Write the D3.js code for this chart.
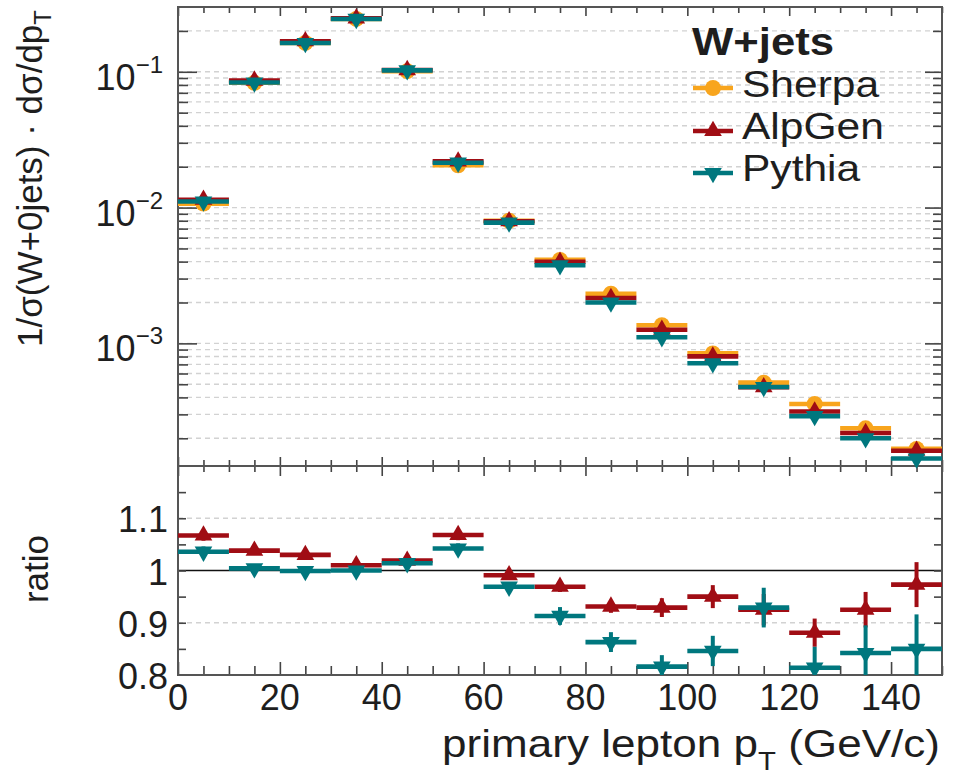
<!DOCTYPE html>
<html><head><meta charset="utf-8">
<script src="https://cdn.jsdelivr.net/npm/d3@7"></script>
<style>
body{margin:0;background:#fff}
svg{display:block}
text{font-family:"Liberation Sans",Arial,Helvetica,sans-serif;fill:#1e1e1e}
</style>
</head><body>
<svg id="c" width="954" height="779"></svg>
<script>
// ---------------- data ----------------
const binEdges = [0,10,20,30,40,50,60,70,80,90,100,110,120,130,140,150];
const seriesNames = ["Sherpa","AlpGen","Pythia"];
const sherpa = [0.0107,0.0830,0.163,0.245,0.101,0.0205,0.00800,0.00412,0.00232,0.00136,0.000844,0.000514,0.000358,0.000237,0.000167];
const alpgen = [0.01142,0.0862,0.168,0.2475,0.1030,0.0219,0.00793,0.00399,0.00216,0.00126,0.000802,0.000475,0.000315,0.000219,0.000162];
const pythia = [0.01109,0.0833,0.163,0.245,0.1025,0.0214,0.00775,0.00376,0.00200,0.00111,0.000714,0.000477,0.000291,0.000200,0.000142];
const ratioAlpgen    = [1.067,1.038,1.030,1.010,1.019,1.068,0.991,0.969,0.931,0.929,0.950,0.925,0.881,0.925,0.973];
const ratioAlpgenErr = [0.010,0.008,0.008,0.006,0.007,0.010,0.008,0.010,0.012,0.018,0.022,0.030,0.027,0.034,0.043];
const ratioPythia    = [1.036,1.004,0.999,1.000,1.014,1.042,0.969,0.913,0.863,0.816,0.846,0.929,0.814,0.842,0.850];
const ratioPythiaErr = [0.010,0.008,0.007,0.006,0.007,0.010,0.009,0.017,0.019,0.022,0.029,0.038,0.040,0.053,0.066];
const xTickLabels = [0,20,40,60,80,100,120,140];
const yTopDecades = [1e-3,1e-2,1e-1];
const yTopDecadeLabels = ["-3","-2","-1"];
const yRatioTicks = [0.8,0.9,1.0,1.1];
const yRatioLabels = ["0.8","0.9","1","1.1"];

// ---------------- layout ----------------
const colors = {Sherpa:"#f8a51d", AlpGen:"#a00d14", Pythia:"#00777e"};
const L = 178, R = 942, T1 = 7, B1 = 466, T2 = 466, B2 = 675;
const svg = d3.select("#c");

const x = d3.scaleLinear().domain([0,150]).range([L,R]);
const yTop = d3.scaleLog().domain([1.25e-4,0.3]).range([B1,T1]);
const yRat = d3.scaleLinear().domain([0.8,1.2]).range([B2,T2]);

const bins = d3.range(binEdges.length-1).map(i=>({lo:binEdges[i],hi:binEdges[i+1],c:(binEdges[i]+binEdges[i+1])/2,i}));

const logMinor = [];
[1e-4,1e-3,1e-2,1e-1].forEach(d=>{for(let k=1;k<10;k++){const v=d*k; if(v>=1.25e-4 && v<=0.3) logMinor.push(v);}});

// ---------------- grids ----------------
const grid = svg.append("g").attr("stroke","#d2d2d2").attr("stroke-width",1.4).attr("stroke-dasharray","5,4");
logMinor.forEach(v=>{
  grid.append("line").attr("x1",L).attr("x2",R).attr("y1",yTop(v)).attr("y2",yTop(v));
});
[0.9,1.1].forEach(v=>{
  grid.append("line").attr("x1",L).attr("x2",R).attr("y1",yRat(v)).attr("y2",yRat(v));
});
svg.append("line").attr("x1",L).attr("x2",R).attr("y1",yRat(1)).attr("y2",yRat(1)).attr("stroke","#111").attr("stroke-width",1.4);

// ---------------- ticks via d3 axes ----------------
const tickCol = "#444";
function styleAxis(g){g.select(".domain").remove(); g.selectAll("line").attr("stroke",tickCol).attr("stroke-width",1.6); g.selectAll("text").remove();}
const xMinor = d3.range(0,151,5).filter(v=>v%20!==0);
const xMajor = d3.range(0,151,20);
svg.append("g").attr("transform",`translate(0,${T1})`).call(d3.axisTop(x).tickValues(xMinor).tickSize(-6)).call(styleAxis);
svg.append("g").attr("transform",`translate(0,${T1})`).call(d3.axisTop(x).tickValues(xMajor).tickSize(-9)).call(styleAxis);
svg.append("g").attr("transform",`translate(0,${B1})`).call(d3.axisBottom(x).tickValues(xMinor).tickSize(-6)).call(styleAxis);
svg.append("g").attr("transform",`translate(0,${B1})`).call(d3.axisBottom(x).tickValues(xMajor).tickSize(-9)).call(styleAxis);
svg.append("g").attr("transform",`translate(0,${T2})`).call(d3.axisTop(x).tickValues(xMinor).tickSize(-6)).call(styleAxis);
svg.append("g").attr("transform",`translate(0,${T2})`).call(d3.axisTop(x).tickValues(xMajor).tickSize(-10)).call(styleAxis);
svg.append("g").attr("transform",`translate(0,${B2})`).call(d3.axisBottom(x).tickValues(xMinor).tickSize(-9)).call(styleAxis);
svg.append("g").attr("transform",`translate(0,${B2})`).call(d3.axisBottom(x).tickValues(xMajor).tickSize(-13)).call(styleAxis);
const logMinorOnly = logMinor.filter(v=>!yTopDecades.includes(v));
svg.append("g").attr("transform",`translate(${L},0)`).call(d3.axisLeft(yTop).tickValues(logMinorOnly).tickSize(-10)).call(styleAxis);
svg.append("g").attr("transform",`translate(${L},0)`).call(d3.axisLeft(yTop).tickValues(yTopDecades).tickSize(-19)).call(styleAxis);
svg.append("g").attr("transform",`translate(${R},0)`).call(d3.axisRight(yTop).tickValues(logMinorOnly).tickSize(-9)).call(styleAxis);
svg.append("g").attr("transform",`translate(${R},0)`).call(d3.axisRight(yTop).tickValues(yTopDecades).tickSize(-17)).call(styleAxis);
const ratMinor = d3.range(0.85,1.2,0.05);
svg.append("g").attr("transform",`translate(${L},0)`).call(d3.axisLeft(yRat).tickValues(ratMinor).tickSize(-8)).call(styleAxis);
svg.append("g").attr("transform",`translate(${R},0)`).call(d3.axisRight(yRat).tickValues(ratMinor).tickSize(-8)).call(styleAxis);

svg.append("rect").attr("x",L).attr("y",T1).attr("width",R-L).attr("height",B1-T1).attr("fill","none").attr("stroke","#555").attr("stroke-width",2);
svg.append("rect").attr("x",L).attr("y",T2).attr("width",R-L).attr("height",B2-T2).attr("fill","none").attr("stroke","#555").attr("stroke-width",2);

// ---------------- markers ----------------
const symCircle = d3.symbol().type(d3.symbolCircle).size(200);
const symTri = d3.symbol().type(d3.symbolTriangle).size(135);
function marker(g, name, cx, cy){
  const p = g.append("path").attr("fill",colors[name]);
  if(name==="Sherpa") p.attr("d",symCircle()).attr("transform",`translate(${cx},${cy})`);
  else if(name==="AlpGen") p.attr("d",symTri()).attr("transform",`translate(${cx},${cy})`);
  else p.attr("d",symTri()).attr("transform",`translate(${cx},${cy}) rotate(180)`);
}

const topSeries = [["Sherpa",sherpa],["AlpGen",alpgen],["Pythia",pythia]];
const gTop = svg.append("g");
topSeries.forEach(([name,vals])=>{
  const g = gTop.append("g");
  bins.forEach(b=>{
    g.append("line").attr("x1",x(b.lo)).attr("x2",x(b.hi)).attr("y1",yTop(vals[b.i])).attr("y2",yTop(vals[b.i]))
      .attr("stroke",colors[name]).attr("stroke-width",4.6);
  });
  bins.forEach(b=>marker(g,name,x(b.c),yTop(vals[b.i])));
});

svg.append("clipPath").attr("id","clipR").append("rect").attr("x",L).attr("y",T2).attr("width",R-L).attr("height",B2-T2);
const gRat = svg.append("g").attr("clip-path","url(#clipR)");
[["AlpGen",ratioAlpgen,ratioAlpgenErr],["Pythia",ratioPythia,ratioPythiaErr]].forEach(([name,vals,errs])=>{
  const g = gRat.append("g");
  bins.forEach(b=>{
    g.append("line").attr("x1",x(b.lo)).attr("x2",x(b.hi)).attr("y1",yRat(vals[b.i])).attr("y2",yRat(vals[b.i]))
      .attr("stroke",colors[name]).attr("stroke-width",4.6);
    g.append("line").attr("x1",x(b.c)).attr("x2",x(b.c)).attr("y1",yRat(vals[b.i]-errs[b.i])).attr("y2",yRat(vals[b.i]+errs[b.i]))
      .attr("stroke",colors[name]).attr("stroke-width",4);
    marker(g,name,x(b.c),yRat(vals[b.i]));
  });
});

// ---------------- labels ----------------
const fs = 36;
xTickLabels.forEach(v=>{
  svg.append("text").attr("x",x(v)).attr("y",710).attr("text-anchor","middle").attr("font-size",fs).text(v);
});
yTopDecades.forEach((v,i)=>{
  const t = svg.append("text").attr("x",163).attr("y",yTop(v)+18).attr("text-anchor","end").attr("font-size",fs);
  t.append("tspan").text("10");
  t.append("tspan").attr("font-size",24).attr("dy",-17).text("\u2212"+yTopDecadeLabels[i].slice(1));
});
yRatioTicks.forEach((v,i)=>{
  svg.append("text").attr("x",168).attr("y",yRat(v)+14).attr("text-anchor","end").attr("font-size",fs).text(yRatioLabels[i]);
});
const yt = svg.append("text").attr("transform","translate(42,347) rotate(-90)").attr("text-anchor","start").attr("font-size",35);
yt.append("tspan").text("1/\u03c3(W+0jets) \u00b7 d\u03c3/dp");
yt.append("tspan").attr("font-size",24).attr("dy",9).text("T");
svg.append("text").attr("transform","translate(48,569) rotate(-90)").attr("text-anchor","middle").attr("font-size",35).text("ratio");
const xt = svg.append("text").attr("transform","translate(940,757) scale(1.13,1)").attr("text-anchor","end").attr("font-size",39);
xt.append("tspan").text("primary lepton p");
xt.append("tspan").attr("font-size",26).attr("dy",13).text("T");
xt.append("tspan").attr("dy",-13).text(" (GeV/c)");

// ---------------- legend ----------------
svg.append("text").attr("transform","translate(692,55) scale(1.15,1)").attr("font-size",38).attr("font-weight","bold").text("W+jets");
const legY = [88,131,173];
const legTextY = [97,139,181];
seriesNames.forEach((name,i)=>{
  svg.append("line").attr("x1",693).attr("x2",733).attr("y1",legY[i]).attr("y2",legY[i]).attr("stroke",colors[name]).attr("stroke-width",4.6);
  marker(svg,name,713,legY[i]);
  svg.append("text").attr("transform",`translate(742,${legTextY[i]}) scale(1.15,1)`).attr("font-size",37).text(name);
});
</script>
</body></html>
